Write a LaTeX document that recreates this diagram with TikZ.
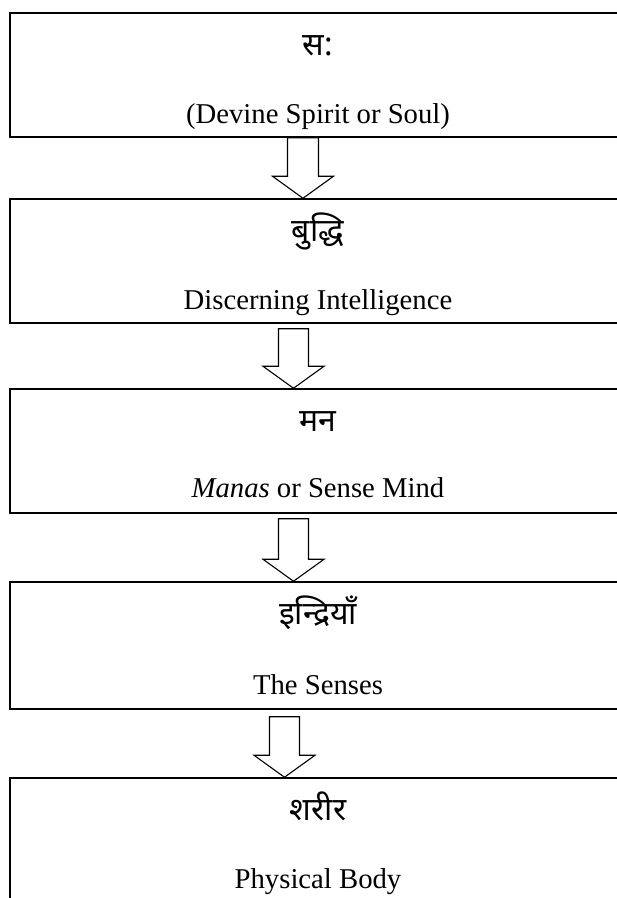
\documentclass[tikz,border=0pt]{standalone}
\usepackage{fontspec}
\setmainfont{Liberation Serif}
\newfontfamily\devfont[Script=Devanagari]{Noto Sans}
\usetikzlibrary{calc}

\tikzset{
  stagebox/.style={draw=black, line width=1.5pt, fill=none, minimum width=616pt, inner sep=0pt},
  engtext/.style={anchor=base, inner sep=0pt, font=\fontsize{28.7pt}{34pt}\selectfont},
  devtext/.style={anchor=base, inner sep=0pt, font=\devfont\fontsize{32pt}{38pt}\selectfont},
  blockarr/.style={draw=black, line width=1.1pt, fill=white, line join=miter}
}

% hollow block arrow: from node, to node, tip x, shaft half width, gap below the upper box
\newcommand\flowarrow[5]{%
  \draw[blockarr] let \p1=(#1.south), \p2=(#2.north) in
    (#3pt-#4pt,\y1-#5pt) -- (#3pt-#4pt,\y2+22pt) -- (#3pt-30.5pt,\y2+22pt) --
    (#3pt,\y2) -- (#3pt+30.5pt,\y2+22pt) -- (#3pt+#4pt,\y2+22pt) --
    (#3pt+#4pt,\y1-#5pt) -- cycle;}

\begin{document}
\begin{tikzpicture}
\useasboundingbox (0pt,0pt) rectangle (617pt,-898pt);
\clip (0pt,0pt) rectangle (617pt,-898pt);
\fill[white] (0pt,0pt) rectangle (617pt,-898pt);

% stage boxes (they run past the right edge)
\node[stagebox, minimum height=124pt] (b1) at (318pt,-75pt) {};
\node[stagebox, minimum height=124pt] (b2) at (318pt,-261pt) {};
\node[stagebox, minimum height=124pt] (b3) at (318pt,-451pt) {};
\node[stagebox, minimum height=127pt] (b4) at (318pt,-645.5pt) {};
\node[stagebox, minimum height=132pt] (b5) at (318pt,-844pt) {};

% labels
\node[devtext] (d1) at (318pt,-55pt) {स:};
\node[engtext] (e1) at (318pt,-123pt) {(Devine Spirit or Soul)};
\node[devtext] (d2) at (318pt,-241pt) {बुद्धि};
\node[engtext] (e2) at (318pt,-309pt) {Discerning Intelligence};
\node[devtext] (d3) at (318pt,-431pt) {मन};
\node[engtext] (e3) at (318pt,-497pt) {\textit{Manas} or Sense Mind};
\node[devtext] (d4) at (318pt,-624pt) {इन्द्रियाँ};
\node[engtext] (e4) at (318pt,-694pt) {The Senses};
\node[devtext] (d5) at (318pt,-820pt) {शरीर};
\node[engtext] (e5) at (318pt,-888pt) {Physical Body};

% arrows between the stages
\flowarrow{b1}{b2}{303}{15.5}{0}
\flowarrow{b2}{b3}{293.5}{15}{5}
\flowarrow{b3}{b4}{293.5}{15}{5}
\flowarrow{b4}{b5}{284.5}{15}{7}
\end{tikzpicture}
\end{document}
